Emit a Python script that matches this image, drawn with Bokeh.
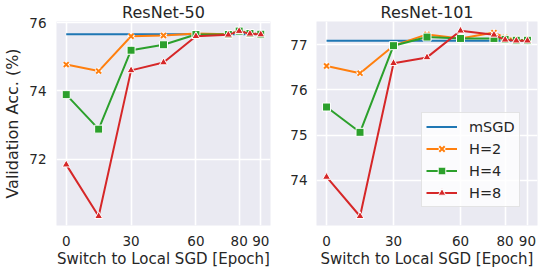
from bokeh.plotting import figure
from bokeh.layouts import row
from bokeh.models import Legend, LegendItem, FixedTicker, Range1d
from bokeh.embed import file_html
from bokeh.resources import INLINE

# ---------------- data ----------------
epochs = [0, 15, 30, 45, 60, 75, 80, 85, 90]
x_ticks = [0, 30, 60, 80, 90]

r50_msgd = [75.66, 75.66, 75.66, 75.66, 75.66, 75.66, 75.66, 75.66, 75.66]
r50_h2 = [74.77, 74.58, 75.60, 75.62, 75.68, 75.66, 75.76, 75.69, 75.66]
r50_h4 = [73.89, 72.88, 75.19, 75.35, 75.65, 75.65, 75.75, 75.68, 75.66]
r50_h8 = [71.84, 70.33, 74.60, 74.83, 75.60, 75.64, 75.75, 75.67, 75.65]
r50_yticks = [72, 74, 76]

r101_msgd = [77.09, 77.09, 77.09, 77.09, 77.09, 77.09, 77.09, 77.09, 77.09]
r101_h2 = [76.53, 76.37, 76.98, 77.23, 77.14, 77.27, 77.16, 77.11, 77.10]
r101_h4 = [75.62, 75.06, 76.98, 77.17, 77.14, 77.14, 77.12, 77.10, 77.10]
r101_h8 = [74.07, 73.20, 76.59, 76.72, 77.31, 77.22, 77.11, 77.09, 77.09]
r101_yticks = [74, 75, 76, 77]

labels = ["mSGD", "H=2", "H=4", "H=8"]
colors = ["#1f77b4", "#ff7f0e", "#2ca02c", "#d62728"]

FONT = "DejaVu Sans"
TXT = "#262626"
H = 270


def make_panel(title, series, yticks, width, bl, br, ylabel=None, legend=False):
    allv = [v for s in series for v in s]
    lo, hi = min(allv), max(allv)
    pad = (hi - lo) * 0.05
    xpad = (max(epochs) - min(epochs)) * 0.05
    p = figure(width=width, height=H, output_backend="svg", toolbar_location=None,
               x_range=Range1d(min(epochs) - xpad, max(epochs) + xpad),
               y_range=Range1d(lo - pad, hi + pad),
               min_border_left=bl, min_border_right=br,
               min_border_top=19, min_border_bottom=45)
    p.background_fill_color = "#EAEAF2"
    p.border_fill_color = "white"
    p.outline_line_color = None
    p.grid.grid_line_color = "white"
    p.grid.grid_line_width = 1.6
    p.title.text = title
    p.title.align = "center"
    p.title.text_font = FONT
    p.title.text_font_size = "16px"
    p.title.text_font_style = "normal"
    p.title.text_color = TXT
    p.title.standoff = 0

    p.xaxis.ticker = FixedTicker(ticks=x_ticks)
    p.yaxis.ticker = FixedTicker(ticks=yticks)
    for ax in (p.xaxis, p.yaxis):
        ax.axis_line_color = None
        ax.major_tick_line_color = None
        ax.minor_tick_line_color = None
        ax.major_tick_out = 0
        ax.major_tick_in = 0
        ax.minor_tick_out = 0
        ax.minor_tick_in = 0
        ax.major_label_text_font = FONT
        ax.major_label_text_font_size = "13.5px"
        ax.major_label_text_color = TXT
        ax.axis_label_text_font = FONT
        ax.axis_label_text_font_style = "normal"
        ax.axis_label_text_color = TXT
    p.xaxis.axis_label = "Switch to Local SGD [Epoch]"
    p.xaxis.axis_label_text_font_size = "15px"
    p.xaxis.major_label_standoff = 10
    p.xaxis.axis_label_standoff = 1
    p.yaxis.major_label_standoff = 10 if ylabel else 9
    if ylabel:
        p.yaxis.axis_label = ylabel
        p.yaxis.axis_label_text_font_size = "16px"
        p.yaxis.axis_label_standoff = 4

    items = []
    # mSGD
    l0 = p.line(epochs, series[0], line_color=colors[0], line_width=2)
    items.append(LegendItem(label=labels[0], renderers=[l0]))
    # H=2
    l1 = p.line(epochs, series[1], line_color=colors[1], line_width=2)
    m1w = p.scatter(epochs, series[1], marker="x", size=7, line_color="white", line_width=4)
    m1 = p.scatter(epochs, series[1], marker="x", size=7, line_color=colors[1], line_width=2)
    items.append(LegendItem(label=labels[1], renderers=[l1, m1w, m1]))
    # H=4
    l2 = p.line(epochs, series[2], line_color=colors[2], line_width=2)
    m2 = p.scatter(epochs, series[2], marker="square", size=8, fill_color=colors[2],
                   line_color="white", line_width=1)
    items.append(LegendItem(label=labels[2], renderers=[l2, m2]))
    # H=8
    l3 = p.line(epochs, series[3], line_color=colors[3], line_width=2)
    m3 = p.scatter(epochs, series[3], marker="triangle", size=8, fill_color=colors[3],
                   line_color="white", line_width=1)
    items.append(LegendItem(label=labels[3], renderers=[l3, m3]))

    if legend:
        lg = Legend(items=items, location=(105, 18))
        lg.label_text_font = FONT
        lg.label_text_font_size = "14.5px"
        lg.label_text_color = TXT
        lg.glyph_width = 31
        lg.glyph_height = 19
        lg.label_height = 19
        lg.label_standoff = 12
        lg.spacing = 3
        lg.padding = 4
        lg.margin = 0
        lg.background_fill_color = "white"
        lg.background_fill_alpha = 0.8
        lg.border_line_color = "#cccccc"
        lg.border_line_width = 1
        p.add_layout(lg, "center")
    return p


p1 = make_panel("ResNet-50", [r50_msgd, r50_h2, r50_h4, r50_h8], r50_yticks,
                271, 50, 1, ylabel="Validation Acc. (%)")
p2 = make_panel("ResNet-101", [r101_msgd, r101_h2, r101_h4, r101_h8], r101_yticks,
                271, 45, 5, legend=True)

layout = row(p1, p2)
open("out.html", "w").write(file_html(layout, INLINE))
